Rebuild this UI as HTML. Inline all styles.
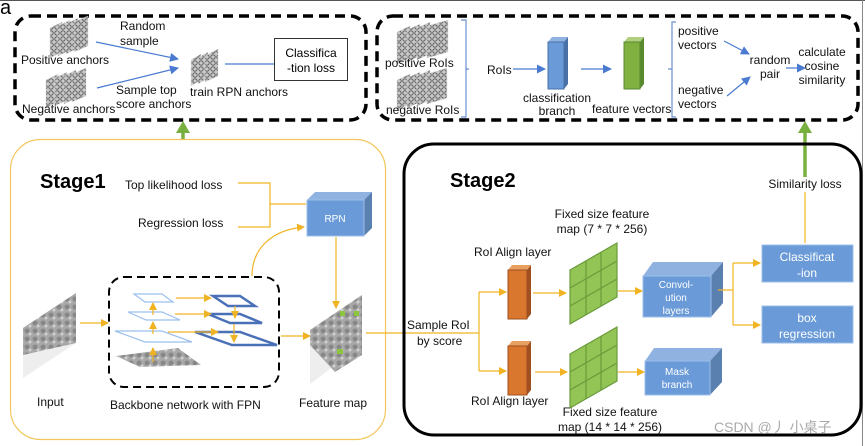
<!DOCTYPE html>
<html><head><meta charset="utf-8"><style>
html,body{margin:0;padding:0;background:#fff;}
svg{display:block;font-family:"Liberation Sans","Noto Sans CJK SC",sans-serif;}
</style></head><body>
<svg width="865" height="446" viewBox="0 0 865 446" xmlns="http://www.w3.org/2000/svg">
<defs>
<marker id="ay" markerWidth="8" markerHeight="8" refX="7" refY="4" orient="auto" markerUnits="userSpaceOnUse"><path d="M0,0 L8,4 L0,8 z" fill="#f0b323"/></marker>
<marker id="ab" markerWidth="9" markerHeight="9" refX="8" refY="4.5" orient="auto" markerUnits="userSpaceOnUse"><path d="M0,0 L9,4.5 L0,9 z" fill="#4a7bd0"/></marker>
<pattern id="em" width="8" height="8" patternUnits="userSpaceOnUse"><rect width="8" height="8" fill="#a8a8a8"/><circle cx="3" cy="3" r="2.5" fill="#888"/><circle cx="6" cy="6" r="1.5" fill="#d0d0d0"/></pattern>
<pattern id="an" width="6" height="6" patternUnits="userSpaceOnUse"><rect width="6" height="6" fill="#c8c8c8"/><circle cx="3" cy="3" r="2.2" fill="none" stroke="#555" stroke-width="0.9"/></pattern>
</defs>
<rect width="865" height="446" fill="#fff"/>
<line x1="0" y1="0.5" x2="865" y2="0.5" stroke="#555" stroke-width="1"/>
<line x1="862.5" y1="0" x2="862.5" y2="446" stroke="#888" stroke-width="1"/>
<text x="0" y="14" font-size="20">a</text>

<rect x="15" y="16" width="351" height="104" rx="16" fill="none" stroke="#000" stroke-width="3.5" stroke-dasharray="10,6"/>
<g fill="url(#an)" stroke="#ddd" stroke-width="0.5">
<path d="M50,28 L62,22 L62,52 L50,58z"/><path d="M58,26 L70,20 L70,50 L58,56z"/><path d="M66,24 L78,18 L78,48 L66,54z"/><path d="M74,22 L88,16 L88,46 L74,52z"/>
<path d="M46,80 L58,74 L58,102 L46,108z"/><path d="M55,78 L67,72 L67,100 L55,106z"/><path d="M64,76 L76,70 L76,98 L64,104z"/><path d="M72,74 L86,68 L86,96 L72,102z"/>
<path d="M191,60 L201,54 L201,80 L191,86z"/><path d="M198,58 L208,52 L208,78 L198,84z"/><path d="M205,56 L218,49 L218,76 L205,82z"/>
</g>
<g font-size="12" fill="#111">
<text x="21" y="64">Positive anchors</text>
<text x="22" y="113">Negative anchors</text>
<text x="120" y="30">Random</text><text x="120" y="45">sample</text>
<text x="116" y="94">Sample top</text><text x="116" y="108">score anchors</text>
<text x="190" y="96">train RPN anchors</text>
</g>
<line x1="96" y1="42" x2="178" y2="59" stroke="#4a7bd0" stroke-width="1.2" marker-end="url(#ab)"/>
<line x1="97" y1="88" x2="178" y2="68" stroke="#4a7bd0" stroke-width="1.2" marker-end="url(#ab)"/>
<line x1="225" y1="64" x2="286" y2="64" stroke="#4a7bd0" stroke-width="1.2" marker-end="url(#ab)"/>
<rect x="274.5" y="38.5" width="73" height="42" fill="#fff" stroke="#333" stroke-width="1"/>
<text x="311" y="57" font-size="12" text-anchor="middle">Classifica</text>
<text x="311" y="72" font-size="12" text-anchor="middle">-tion loss</text>

<rect x="377" y="16" width="481" height="104" rx="16" fill="none" stroke="#000" stroke-width="3.5" stroke-dasharray="10,6"/>
<g fill="url(#an)" stroke="#ddd" stroke-width="0.5">
<path d="M397,32 L410,26 L410,58 L397,64z"/><path d="M407,30 L420,24 L420,56 L407,62z"/><path d="M417,28 L430,22 L430,54 L417,60z"/><path d="M427,26 L448,20 L448,52 L427,58z"/>
<path d="M397,80 L410,74 L410,104 L397,110z"/><path d="M407,78 L420,72 L420,102 L407,108z"/><path d="M417,76 L430,70 L430,100 L417,106z"/><path d="M427,74 L447,68 L447,98 L427,104z"/>
</g>
<g font-size="12" fill="#111">
<text x="385" y="67">positive RoIs</text>
<text x="386" y="114">negative RoIs</text>
<text x="487" y="74">RoIs</text>
<text x="557" y="102" text-anchor="middle">classification</text><text x="557" y="115" text-anchor="middle">branch</text>
<text x="592" y="113">feature vectors</text>
<text x="678" y="35">positive</text><text x="678" y="49">vectors</text>
<text x="678" y="94">negative</text><text x="678" y="108">vectors</text>
<text x="770" y="64" text-anchor="middle">random</text><text x="770" y="78" text-anchor="middle">pair</text>
<text x="822" y="56" text-anchor="middle">calculate</text><text x="822" y="70" text-anchor="middle">cosine</text><text x="822" y="84" text-anchor="middle">similarity</text>
</g>
<path d="M461,20 H466 V117 H461 M466,69 H469" fill="none" stroke="#6a8fd0" stroke-width="1.2"/>
<path d="M676,22 H672 V117 H676 M672,69 H668" fill="none" stroke="#6a8fd0" stroke-width="1.2"/>
<line x1="513" y1="69" x2="545" y2="69" stroke="#4a7bd0" stroke-width="1.2" marker-end="url(#ab)"/>
<line x1="581" y1="69" x2="611" y2="69" stroke="#4a7bd0" stroke-width="1.2" marker-end="url(#ab)"/>
<line x1="724" y1="41" x2="749" y2="54" stroke="#4a7bd0" stroke-width="1.2" marker-end="url(#ab)"/>
<line x1="727" y1="96" x2="750" y2="77" stroke="#4a7bd0" stroke-width="1.2" marker-end="url(#ab)"/>
<line x1="786" y1="68" x2="805" y2="68" stroke="#4a7bd0" stroke-width="1.2" marker-end="url(#ab)"/>
<path d="M548,42 L552,37 L568,37 L564,42z" fill="#8fb2e0"/><path d="M564,42 L568,37 L568,84 L564,89z" fill="#4a70a8"/><rect x="548" y="42" width="16" height="47" fill="#6a9bd8" stroke="#4a70a8"/>
<path d="M624,42 L628,37 L644,37 L640,42z" fill="#b0d080"/><path d="M640,42 L644,37 L644,84 L640,89z" fill="#5a8a30"/><rect x="624" y="42" width="16" height="47" fill="#7fb040" stroke="#5a8a30"/>

<line x1="183" y1="140" x2="183" y2="132" stroke="#78b040" stroke-width="3.5"/><path d="M176,133 L183,121 L190,133z" fill="#78b040"/>
<line x1="805" y1="177" x2="805" y2="132" stroke="#78b040" stroke-width="3.5"/><path d="M798,133 L805,121 L812,133z" fill="#78b040"/>

<rect x="10.5" y="139.5" width="375" height="300" rx="30" fill="none" stroke="#f2c65c" stroke-width="1.2"/>
<text x="40" y="188" font-size="20" font-weight="bold">Stage1</text>
<g font-size="12" fill="#111">
<text x="125" y="189">Top likelihood loss</text>
<text x="138" y="227">Regression loss</text>
<text x="37" y="406">Input</text>
<text x="110" y="409">Backbone network with FPN</text>
<text x="299" y="407">Feature map</text>
</g>
<path d="M238,183 H270 V227 H238 M270,204 H306" fill="none" stroke="#f0b323" stroke-width="1.2"/>
<path d="M307,200 L315,192 L372,192 L364,200z" fill="#8fb2e0"/><path d="M364,200 L372,192 L372,228 L364,236z" fill="#5a80b0"/>
<rect x="307" y="200" width="57" height="36" fill="#6a9bd8" stroke="#9cbfe8"/>
<text x="335" y="222" font-size="10" fill="#fff" text-anchor="middle">RPN</text>
<path d="M252,276 C252,250 270,230 304,227" fill="none" stroke="#f0b323" stroke-width="1.2" marker-end="url(#ay)"/>
<line x1="336" y1="237" x2="336" y2="308" stroke="#f0b323" stroke-width="1.2" marker-end="url(#ay)"/>
<path d="M23,328 L76,293 L76,343 L23,378z" fill="#eee"/>
<path d="M23,328 L76,293 L76,343 L23,355z" fill="url(#em)"/>
<line x1="80" y1="323" x2="108" y2="323" stroke="#f0b323" stroke-width="1.2" marker-end="url(#ay)"/>
<rect x="109" y="277" width="170" height="110" rx="15" fill="none" stroke="#000" stroke-width="2" stroke-dasharray="8,5"/>
<path d="M116,356 L178,348 L201,365 L140,367z" fill="url(#em)"/>
<g fill="none" stroke="#9cc0ee" stroke-width="1.2">
<path d="M134,294 L162,294 L173,302 L145,302z"/><path d="M128,312 L162,312 L180,320 L146,320z"/><path d="M115,331 L162,331 L192,342 L145,342z"/>
</g>
<g fill="none" stroke="#4a70b8">
<path d="M213,296 L240,296 L255,306 L228,306z" stroke-width="2.5"/><path d="M208,314 L240,314 L262,323 L230,323z" stroke-width="2.5"/><path d="M195,332 L240,332 L277,345 L232,345z" stroke-width="2.5"/>
</g>
<g stroke="#f0b323" stroke-width="1.2">
<line x1="153" y1="362" x2="153" y2="348" marker-end="url(#ay)"/><line x1="153" y1="334" x2="153" y2="322" marker-end="url(#ay)"/><line x1="153" y1="315" x2="153" y2="303" marker-end="url(#ay)"/>
<line x1="176" y1="298" x2="211" y2="298" marker-end="url(#ay)"/><line x1="175" y1="314" x2="211" y2="314" marker-end="url(#ay)"/><line x1="168" y1="332" x2="218" y2="332" marker-end="url(#ay)"/>
<line x1="235" y1="306" x2="235" y2="318" marker-end="url(#ay)"/><line x1="234" y1="324" x2="234" y2="342" marker-end="url(#ay)"/>
<line x1="281" y1="336" x2="310" y2="336" marker-end="url(#ay)"/>
</g>
<path d="M310,330 L362,295 L362,345 L310,384z" fill="#eee"/>
<path d="M310,330 L362,295 L362,355 L335,372 L310,345z" fill="url(#em)"/>
<rect x="340" y="311" width="5" height="5" fill="#8cc63f"/><rect x="354" y="311" width="5" height="5" fill="#8cc63f"/><rect x="337" y="349" width="6" height="5" fill="#8cc63f"/>
<line x1="366" y1="333" x2="479" y2="333" stroke="#f0b323" stroke-width="1.2"/>

<rect x="404" y="144" width="457" height="291" rx="30" fill="none" stroke="#000" stroke-width="3"/>
<text x="450" y="187" font-size="20" font-weight="bold">Stage2</text>
<g font-size="12" fill="#111">
<text x="407" y="329">Sample RoI</text><text x="417" y="345">by score</text>
<text x="474" y="256">RoI Align layer</text>
<text x="471" y="405">RoI Align layer</text>
<text x="602" y="218" text-anchor="middle">Fixed size feature</text><text x="602" y="233" text-anchor="middle">map (7 * 7 * 256)</text>
<text x="610" y="416" text-anchor="middle">Fixed size feature</text><text x="610" y="431" text-anchor="middle">map (14 * 14 * 256)</text>
<text x="805" y="188" text-anchor="middle">Similarity loss</text>
</g>
<text x="714" y="432" font-size="14" fill="#aaa">CSDN @丿 小桌子</text>
<path d="M479,292 V371" fill="none" stroke="#f0b323" stroke-width="1.2"/>
<line x1="479" y1="292" x2="506" y2="292" stroke="#f0b323" stroke-width="1.2" marker-end="url(#ay)"/>
<line x1="479" y1="371" x2="506" y2="371" stroke="#f0b323" stroke-width="1.2" marker-end="url(#ay)"/>
<g><path d="M508,270 L512,265 L531,265 L527,270z" fill="#e8a060"/><path d="M527,270 L531,265 L531,314 L527,319z" fill="#a05020"/><rect x="508" y="270" width="19" height="49" fill="#d9772f" stroke="#a05020"/></g>
<g><path d="M508,346 L512,341 L531,341 L527,346z" fill="#e8a060"/><path d="M527,346 L531,341 L531,390 L527,395z" fill="#a05020"/><rect x="508" y="346" width="19" height="49" fill="#d9772f" stroke="#a05020"/></g>
<line x1="533" y1="293" x2="566" y2="293" stroke="#f0b323" stroke-width="1.2" marker-end="url(#ay)"/>
<line x1="535" y1="372" x2="567" y2="372" stroke="#f0b323" stroke-width="1.2" marker-end="url(#ay)"/>
<g fill="#92c456" stroke="#6a9b3a" stroke-width="1.2">
<path d="M570,270 L617,243 L617,297 L570,324z"/><path d="M586,261 L586,315 M601,252 L601,306 M570,288 L617,261 M570,306 L617,279" fill="none"/>
<path d="M570,354 L617,327 L617,381 L570,408z"/><path d="M586,345 L586,399 M601,336 L601,390 M570,372 L617,345 M570,390 L617,363" fill="none"/>
</g>
<line x1="618" y1="291" x2="642" y2="291" stroke="#f0b323" stroke-width="1.2" marker-end="url(#ay)"/>
<line x1="618" y1="372" x2="644" y2="372" stroke="#f0b323" stroke-width="1.2" marker-end="url(#ay)"/>
<path d="M643,276 L653,262 L723,262 L711,276z" fill="#8fb2e0"/><path d="M711,276 L723,262 L723,303 L711,317z" fill="#5a80b0"/>
<rect x="643" y="276" width="68" height="41" fill="#6a9bd8" stroke="#9cbfe8"/>
<g font-size="10" fill="#fff" text-anchor="middle"><text x="676" y="288">Convol-</text><text x="676" y="301">ution</text><text x="676" y="314">layers</text></g>
<path d="M645,361 L654,348 L722,348 L710,361z" fill="#8fb2e0"/><path d="M710,361 L722,348 L722,382 L710,395z" fill="#5a80b0"/>
<rect x="645" y="361" width="65" height="34" fill="#6a9bd8" stroke="#9cbfe8"/>
<g font-size="10" fill="#fff" text-anchor="middle"><text x="677" y="375">Mask</text><text x="677" y="388">branch</text></g>
<path d="M718,290 H733 M733,263 V325" fill="none" stroke="#f0b323" stroke-width="1.2"/>
<line x1="733" y1="263" x2="760" y2="263" stroke="#f0b323" stroke-width="1.2" marker-end="url(#ay)"/>
<line x1="733" y1="325" x2="760" y2="325" stroke="#f0b323" stroke-width="1.2" marker-end="url(#ay)"/>
<rect x="762" y="245" width="91" height="37" fill="#6a9bd8" stroke="#9cbfe8"/>
<g font-size="12" fill="#fff" text-anchor="middle"><text x="807" y="261">Classificat</text><text x="807" y="277">-ion</text></g>
<rect x="762" y="306" width="91" height="37" fill="#6a9bd8" stroke="#9cbfe8"/>
<g font-size="12" fill="#fff" text-anchor="middle"><text x="807" y="322">box</text><text x="807" y="338">regression</text></g>
<line x1="805" y1="192" x2="805" y2="243" stroke="#f0b323" stroke-width="1.2"/>
</svg>
</body></html>
